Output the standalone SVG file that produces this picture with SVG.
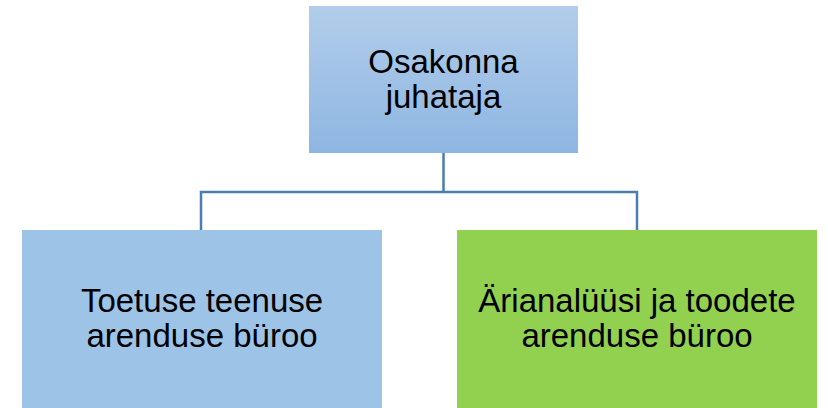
<svg xmlns="http://www.w3.org/2000/svg" width="828" height="408" viewBox="0 0 828 408">
<style>
.t{font-family:"Liberation Sans",Arial,sans-serif;font-size:33px;fill:#000;text-anchor:middle}
.c{fill:none;stroke:#4a7db0;stroke-width:2.5}
</style>
<defs>
<linearGradient id="g" x1="0" y1="0" x2="0" y2="1">
<stop offset="0" stop-color="#b2cdea"/>
<stop offset="1" stop-color="#8eb6e2"/>
</linearGradient>
</defs>
<rect width="828" height="408" fill="#fff"/>
<g id="connectors">
<path class="c" d="M443.5 153V192M201 230V192H637V230"/>
</g>
<g id="top">
<rect x="309" y="6" width="269" height="147" fill="url(#g)"/>
<text class="t" x="443.5" y="73">Osakonna</text>
<text class="t" x="443.5" y="108">juhataja</text>
</g>
<g id="left">
<rect x="22" y="230" width="360" height="178" fill="#9dc3e6"/>
<text class="t" x="202" y="312">Toetuse teenuse</text>
<text class="t" x="202" y="347">arenduse büroo</text>
</g>
<g id="right">
<rect x="457" y="230" width="360" height="178" fill="#92d050"/>
<text class="t" x="637" y="312">Ärianalüüsi ja toodete</text>
<text class="t" x="637" y="347">arenduse büroo</text>
</g>
</svg>
